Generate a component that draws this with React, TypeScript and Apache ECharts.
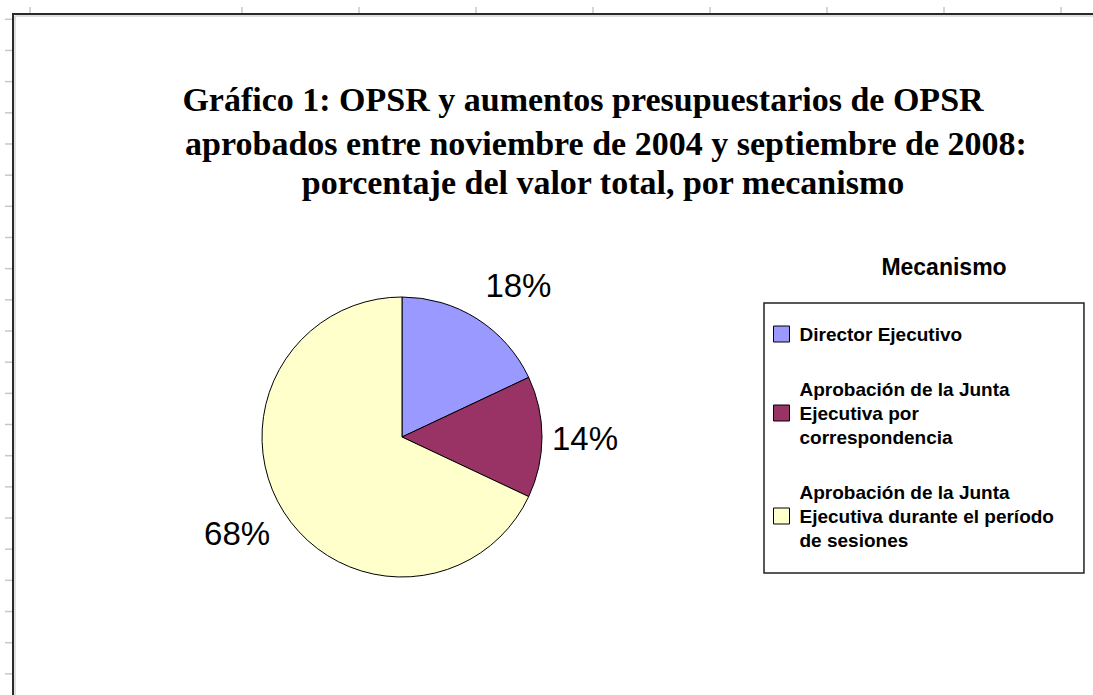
import React, { useEffect, useRef } from 'react';
import * as echarts from 'echarts';

const titleLines = [
  'Gráfico 1: OPSR y aumentos presupuestarios de OPSR',
  'aprobados entre noviembre de 2004 y septiembre de 2008:',
  'porcentaje del valor total, por mecanismo',
];
const legendTitle = 'Mecanismo';
const categories = [
  'Director Ejecutivo',
  'Aprobación de la Junta Ejecutiva por correspondencia',
  'Aprobación de la Junta Ejecutiva durante el período de sesiones',
];
const legendLines = [
  'Director Ejecutivo',
  'Aprobación de la Junta\nEjecutiva por\ncorrespondencia',
  'Aprobación de la Junta\nEjecutiva durante el período\nde sesiones',
];
const values = [18, 14, 68];
const colors = ['#9999FF', '#993366', '#FFFFCC'];

export default function App() {
  const ref = useRef<HTMLDivElement>(null);
  useEffect(() => {
    if (!ref.current) return;
    const chart = echarts.init(ref.current, null, { renderer: 'svg' });
    const W = 1093;
    const H = 695;
    const tickColor = '#c8c8c8';
    const graphics: any[] = [];
    const topTicks: number[] = [30];
    for (let x = 242; x < W; x += 117) topTicks.push(x);
    const leftTicks: number[] = [];
    for (let y = 19.3; y < H; y += 31.17) leftTicks.push(y);
    topTicks.forEach((x) =>
      graphics.push({ type: 'line', silent: true, shape: { x1: x, y1: 7, x2: x, y2: 13 }, style: { stroke: tickColor, lineWidth: 1.5 } })
    );
    leftTicks.forEach((y) =>
      graphics.push({ type: 'line', silent: true, shape: { x1: 5, y1: y, x2: 12, y2: y }, style: { stroke: tickColor, lineWidth: 1.5 } })
    );
    graphics.push({ type: 'polyline', silent: true, shape: { points: [[15, H], [15, 16], [W, 16]] }, style: { stroke: '#c0c0c0', lineWidth: 1, fill: 'none' } });
    graphics.push({ type: 'polyline', silent: true, shape: { points: [[13, H], [13, 14], [W, 14]] }, style: { stroke: '#2a2a2a', lineWidth: 2, fill: 'none' } });

    const titleStyle = { fontFamily: 'Liberation Serif', fontWeight: 'bold', fontSize: 34, color: '#000' };
    const titleX = [583, 606, 603];
    const titleY = [82, 126, 165];
    const titles: any[] = titleLines.map((t, i) => ({
      text: t,
      left: titleX[i],
      top: titleY[i],
      textAlign: 'center',
      padding: 0,
      textStyle: titleStyle,
    }));
    titles.push({
      text: legendTitle,
      left: 944,
      top: 255,
      textAlign: 'center',
      padding: 0,
      textStyle: { fontFamily: 'Liberation Sans', fontWeight: 'bold', fontSize: 23, color: '#000' },
    });

    const labelLens = [38, 11, 28];
    const labelOffsets = [[-12, -1], [-1, 1], [10, 6]];

    chart.setOption({
      animation: false,
      title: titles,
      graphic: graphics,
      legend: {
        orient: 'vertical',
        left: 764,
        top: 303,
        padding: [19, 30, 21, 9],
        itemGap: 31,
        itemWidth: 16,
        itemHeight: 16,
        icon: 'rect',
        borderColor: '#222',
        borderWidth: 1.5,
        backgroundColor: '#fff',
        selectedMode: false,
        data: categories,
        formatter: (name: string) => legendLines[categories.indexOf(name)],
        itemStyle: { borderColor: '#000', borderWidth: 1 },
        textStyle: {
          fontFamily: 'Liberation Sans',
          fontWeight: 'bold',
          fontSize: 19,
          lineHeight: 24,
          color: '#000',
          padding: [0, 0, 0, 5],
        },
      },
      series: [
        {
          type: 'pie',
          center: [402, 437],
          radius: 140,
          startAngle: 90,
          clockwise: true,
          avoidLabelOverlap: false,
          emphasis: { disabled: true },
          itemStyle: { borderColor: '#000', borderWidth: 1 },
          label: {
            show: true,
            position: 'outside',
            distanceToLabelLine: 0,
            formatter: (p: any) => `${p.value}%`,
            fontFamily: 'Liberation Sans',
            fontSize: 33,
            color: '#000',
          },
          labelLine: { show: false },
          labelLayout: (params: any) => {
            const o = labelOffsets[params.dataIndex] || [0, 0];
            return { dx: o[0], dy: o[1] };
          },
          data: categories.map((c, i) => ({
            name: c,
            value: values[i],
            itemStyle: { color: colors[i] },
            labelLine: { show: false, length: labelLens[i], length2: 0 },
          })),
        },
      ],
    });
    return () => chart.dispose();
  }, []);
  return <div ref={ref} style={{ position: 'absolute', left: 0, top: 0, width: 1093, height: 695 }} />;
}
